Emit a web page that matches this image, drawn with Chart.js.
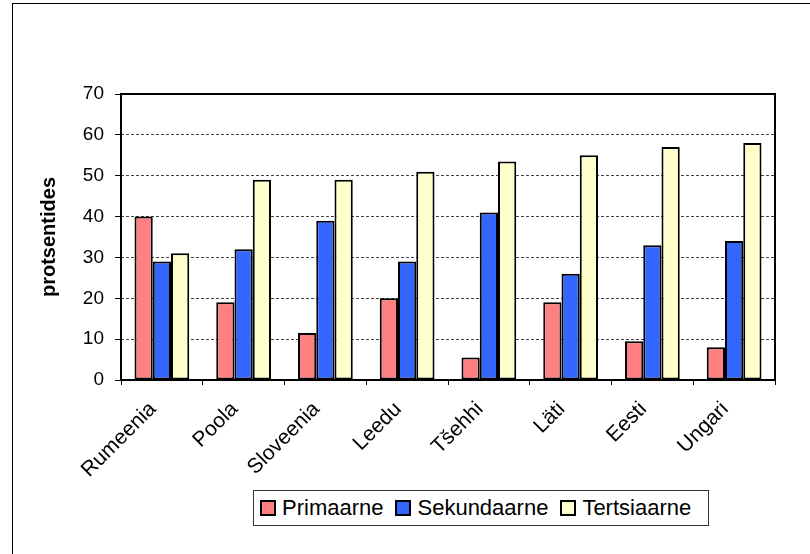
<!DOCTYPE html>
<html>
<head>
<meta charset="utf-8">
<script src="https://cdn.jsdelivr.net/npm/chart.js@4/dist/chart.umd.min.js"></script>
<style>
  body { margin: 0; background: #fff; font-family: "Liberation Sans", Arial, sans-serif; }
  #wrap { position: relative; width: 810px; height: 554px; overflow: hidden; }
  #frame { position: absolute; left: 12px; top: 3px; width: 900px; height: 700px;
           border-left: 1px solid #000; border-top: 1px solid #000; }
  #legend { position: absolute; left: 253px; top: 490px; width: 454px; height: 34px;
            border: 1px solid #333; background: #fff; display: flex; align-items: center;
            font-size: 22px; color: #000; }
  #legend span.box { display: inline-block; width: 12px; height: 12px; border: 2px solid #000;
                     margin: 0 6px 0 0; }
  #legend .item { display: flex; align-items: center; }
</style>
</head>
<body>
<div id="wrap">
  <div id="frame"></div>
  <canvas id="chart" width="810" height="554"></canvas>
  <div id="legend"></div>
</div>
<script>
// andmed
const riigid = ['Rumeenia', 'Poola', 'Sloveenia', 'Leedu', 'Tšehhi', 'Läti', 'Eesti', 'Ungari'];
const primaarne = [40, 19, 11.5, 20, 5.5, 19, 9.5, 8];
const sekundaarne = [29, 32, 39, 29, 41, 26, 33, 34];
const tertsiaarne = [31, 49, 49, 51, 53.5, 55, 57, 58];
const seeriaNimed = ['Primaarne', 'Sekundaarne', 'Tertsiaarne'];
const varvid = ['#FF8080', '#3366FF', '#FFFFCC'];

// must raam ümber joonise ala
const raamPlugin = {
    id: 'raam',
    afterDraw(chart) {
        const { ctx, chartArea: a } = chart;
        ctx.save();
        ctx.strokeStyle = '#000';
        ctx.lineWidth = 2;
        ctx.strokeRect(a.left, a.top, a.right - a.left, a.bottom - a.top);
        ctx.restore();
    }
};

const ctx = document.getElementById('chart').getContext('2d');
new Chart(ctx, {
    type: 'bar',
    data: {
        labels: riigid,
        datasets: [primaarne, sekundaarne, tertsiaarne].map((d, i) => ({
            label: seeriaNimed[i],
            data: d,
            backgroundColor: varvid[i],
            borderColor: '#000',
            borderWidth: 2,
            borderSkipped: false,
            barPercentage: 1,
            categoryPercentage: 0.67
        }))
    },
    options: {
        responsive: false,
        animation: false,
        layout: { padding: { top: 94, right: 35, left: 0, bottom: 0 } },
        plugins: {
            legend: { display: false },
            tooltip: { enabled: false }
        },
        scales: {
            x: {
                afterFit: s => { s.height = 174; },
                grid: { drawOnChartArea: false, tickLength: 5, color: '#000', lineWidth: 1 },
                border: { display: false },
                ticks: {
                    minRotation: 45, maxRotation: 45, autoSkip: false,
                    color: '#000', padding: 12, labelOffset: -9,
                    font: { family: 'Liberation Sans', size: 21 }
                }
            },
            y: {
                min: 0, max: 70,
                afterFit: s => { s.width = 121; },
                grid: { color: '#444', lineWidth: 1, tickLength: 6, tickColor: '#000' },
                border: { display: false, dash: [3, 2] },
                ticks: {
                    stepSize: 10, color: '#000', padding: 11,
                    font: { family: 'Liberation Sans', size: 19 }
                },
                title: {
                    display: true, text: 'protsentides', color: '#000',
                    padding: { top: 37, bottom: 0 },
                    font: { family: 'Liberation Sans', size: 20, weight: 'bold' }
                }
            }
        }
    },
    plugins: [raamPlugin]
});

// legend
const legend = document.getElementById('legend');
seeriaNimed.forEach((nimi, i) => {
    const item = document.createElement('div');
    item.className = 'item';
    item.style.marginLeft = i === 0 ? '6px' : '12px';
    item.innerHTML = '<span class="box" style="background:' + varvid[i] + '"></span>' + nimi;
    legend.appendChild(item);
});
</script>
</body>
</html>
